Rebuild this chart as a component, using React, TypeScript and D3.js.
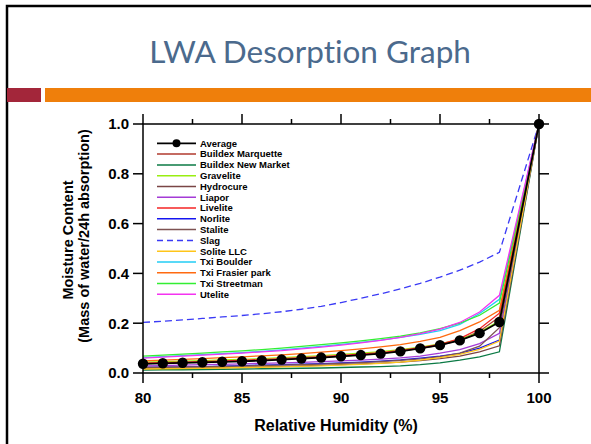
import React from "react";
import * as d3 from "d3";

const rh = [80, 81, 82, 83, 84, 85, 86, 87, 88, 89, 90, 91, 92, 93, 94, 95, 96, 97, 98, 100];

const seriesNames = [
  "Average",
  "Buildex Marquette",
  "Buildex New Market",
  "Gravelite",
  "Hydrocure",
  "Liapor",
  "Livelite",
  "Norlite",
  "Stalite",
  "Slag",
  "Solite LLC",
  "Txi Boulder",
  "Txi Frasier park",
  "Txi Streetman",
  "Utelite",
];

const average = [0.037, 0.039, 0.041, 0.043, 0.045, 0.047, 0.050, 0.054, 0.058, 0.062, 0.067, 0.072, 0.078, 0.087, 0.099, 0.112, 0.131, 0.160, 0.205, 1.0];
const buildexMarquette = [0.038, 0.040, 0.042, 0.044, 0.046, 0.049, 0.052, 0.055, 0.059, 0.063, 0.068, 0.073, 0.079, 0.088, 0.099, 0.112, 0.132, 0.168, 0.225, 1.0];
const buildexNewMarket = [0.012, 0.013, 0.013, 0.014, 0.015, 0.016, 0.017, 0.018, 0.019, 0.020, 0.022, 0.024, 0.026, 0.029, 0.034, 0.041, 0.052, 0.065, 0.085, 1.0];
const gravelite = [0.044, 0.046, 0.048, 0.050, 0.053, 0.055, 0.058, 0.062, 0.066, 0.070, 0.075, 0.080, 0.086, 0.094, 0.104, 0.117, 0.135, 0.163, 0.210, 1.0];
const hydrocure = [0.018, 0.019, 0.020, 0.021, 0.022, 0.024, 0.025, 0.027, 0.029, 0.031, 0.034, 0.037, 0.040, 0.044, 0.050, 0.058, 0.068, 0.085, 0.109, 1.0];
const liapor = [0.029, 0.030, 0.032, 0.034, 0.035, 0.037, 0.039, 0.041, 0.043, 0.046, 0.049, 0.052, 0.056, 0.061, 0.068, 0.080, 0.094, 0.118, 0.159, 1.0];
const livelite = [0.040, 0.042, 0.044, 0.046, 0.049, 0.051, 0.054, 0.058, 0.062, 0.066, 0.071, 0.076, 0.082, 0.091, 0.102, 0.115, 0.138, 0.178, 0.240, 1.0];
const norlite = [0.022, 0.023, 0.025, 0.026, 0.028, 0.030, 0.032, 0.034, 0.036, 0.038, 0.041, 0.044, 0.048, 0.053, 0.060, 0.068, 0.079, 0.100, 0.132, 1.0];
const stalite = [0.022, 0.023, 0.024, 0.025, 0.027, 0.028, 0.030, 0.032, 0.034, 0.036, 0.039, 0.042, 0.046, 0.051, 0.057, 0.066, 0.080, 0.108, 0.182, 1.0];
const slag = [0.203, 0.208, 0.213, 0.219, 0.225, 0.231, 0.238, 0.246, 0.256, 0.268, 0.283, 0.300, 0.318, 0.338, 0.360, 0.385, 0.413, 0.445, 0.485, 1.0];
const soliteLLC = [0.016, 0.017, 0.018, 0.019, 0.020, 0.022, 0.023, 0.025, 0.027, 0.029, 0.032, 0.035, 0.039, 0.044, 0.052, 0.062, 0.075, 0.095, 0.128, 1.0];
const txiBoulder = [0.062, 0.066, 0.070, 0.074, 0.078, 0.082, 0.087, 0.093, 0.100, 0.107, 0.115, 0.123, 0.132, 0.143, 0.155, 0.170, 0.195, 0.239, 0.296, 1.0];
const txiFrasierPark = [0.049, 0.052, 0.055, 0.058, 0.062, 0.065, 0.069, 0.073, 0.078, 0.084, 0.090, 0.097, 0.105, 0.114, 0.127, 0.143, 0.170, 0.205, 0.252, 1.0];
const txiStreetman = [0.068, 0.072, 0.076, 0.080, 0.085, 0.089, 0.094, 0.100, 0.107, 0.114, 0.121, 0.129, 0.138, 0.148, 0.161, 0.178, 0.200, 0.232, 0.281, 1.0];
const utelite = [0.060, 0.064, 0.068, 0.072, 0.076, 0.080, 0.085, 0.090, 0.097, 0.104, 0.112, 0.121, 0.131, 0.143, 0.158, 0.176, 0.203, 0.245, 0.312, 1.0];

const seriesValues = [
  average, buildexMarquette, buildexNewMarket, gravelite, hydrocure, liapor, livelite,
  norlite, stalite, slag, soliteLLC, txiBoulder, txiFrasierPark, txiStreetman, utelite,
];

const seriesColors = [
  "#000000", "#B03A2E", "#0B7A45", "#99EE11", "#7A4545", "#A43BD6", "#F52525",
  "#1515F0", "#7D5252", "#3A3AF5", "#FFC51A", "#22CCF5", "#FF6A10", "#33EE33", "#F433F0",
];

const xTicks = [80, 85, 90, 95, 100];
const xMinorTicks = [82.5, 87.5, 92.5, 97.5];
const yTicks = [0, 0.2, 0.4, 0.6, 0.8, 1.0];

const titleText = "LWA Desorption Graph";
const xTitle = "Relative Humidity (%)";
const yTitle1 = "Moisture Content";
const yTitle2 = "(Mass of water/24h absorption)";

export default function App() {
  const W = 591;
  const H = 444;
  const left = 143, right = 539, top = 124, bottom = 373;
  const x = d3.scaleLinear().domain([80, 100]).range([left, right]);
  const y = d3.scaleLinear().domain([0, 1]).range([bottom, top]);
  const line = d3
    .line<number>()
    .x((_, i) => x(rh[i]))
    .y((v) => y(v));

  const font = "'Liberation Sans', Arial, sans-serif";
  const order = [...seriesNames.keys()].filter((i) => i !== 0).concat([0]);

  const legX1 = 157, legX2 = 196, legY0 = 143.3, legDy = 10.79;

  return (
    <svg width={W} height={H} style={{ position: "absolute", left: 0, top: 0, background: "#fff" }}>
      {/* slide frame */}
      <rect x={7} y={6} width={700} height={600} fill="none" stroke="#000" strokeWidth={2.5} />
      <text
        x={310}
        y={63}
        textAnchor="middle"
        fontFamily="Lato, 'Noto Sans', sans-serif"
        fontSize={31.5}
        fill="#4B6A8D"
        style={{ fontVariantLigatures: "none" }}
      >
        {titleText}
      </text>
      <rect x={7} y={88} width={34} height={14} fill="#A3263A" />
      <rect x={45} y={88} width={560} height={14} fill="#EF7F0B" />

      {/* series */}
      <g>
        {order.map((i) => (
          <path
            key={seriesNames[i]}
            d={line(seriesValues[i]) || ""}
            fill="none"
            stroke={seriesColors[i]}
            strokeWidth={i === 0 ? 1.8 : 1.3}
            strokeDasharray={seriesNames[i] === "Slag" ? "7,4" : undefined}
          />
        ))}
        {average.map((v, i) => (
          <circle key={i} cx={x(rh[i])} cy={y(v)} r={5.2} fill="#000" />
        ))}
      </g>

      {/* axes frame */}
      <g stroke="#000" strokeWidth={1.5} fill="none">
        <rect x={left} y={top} width={right - left} height={bottom - top} />
        {xTicks.map((t) => (
          <g key={"xt" + t}>
            <line x1={x(t)} x2={x(t)} y1={bottom} y2={bottom + 10} />
            <line x1={x(t)} x2={x(t)} y1={top} y2={top - 10} />
          </g>
        ))}
        {xMinorTicks.map((t) => (
          <g key={"xm" + t}>
            <line x1={x(t)} x2={x(t)} y1={bottom} y2={bottom + 5} />
            <line x1={x(t)} x2={x(t)} y1={top} y2={top - 5} />
          </g>
        ))}
        {yTicks.map((t) => (
          <g key={"yt" + t}>
            <line x1={left} x2={left - 10} y1={y(t)} y2={y(t)} />
            <line x1={right} x2={right + 10} y1={y(t)} y2={y(t)} />
          </g>
        ))}
      </g>

      {/* tick labels */}
      <g fontFamily={font} fontWeight="bold" fontSize={15} fill="#000">
        {xTicks.map((t) => (
          <text key={"xl" + t} x={x(t)} y={403} textAnchor="middle">
            {d3.format("d")(t)}
          </text>
        ))}
        {yTicks.map((t) => (
          <text key={"yl" + t} x={129} y={y(t) + 5.3} textAnchor="end">
            {d3.format(".1f")(t)}
          </text>
        ))}
      </g>

      {/* axis titles */}
      <g fontFamily={font} fontWeight="bold" fill="#000">
        <text x={336} y={431} textAnchor="middle" fontSize={16}>
          {xTitle}
        </text>
        <text transform="translate(73,240) rotate(-90)" textAnchor="middle" fontSize={14.5}>
          {yTitle1}
        </text>
        <text transform="translate(88.5,236) rotate(-90)" textAnchor="middle" fontSize={14.5}>
          {yTitle2}
        </text>
      </g>

      {/* legend */}
      <g fontFamily={font} fontWeight="bold" fontSize={9.5} fill="#000">
        {seriesNames.map((name, i) => {
          const ly = legY0 + i * legDy;
          return (
            <g key={"lg" + name}>
              <line
                x1={legX1}
                x2={legX2}
                y1={ly}
                y2={ly}
                stroke={seriesColors[i]}
                strokeWidth={i === 0 ? 1.8 : 1.5}
                strokeDasharray={name === "Slag" ? "6,4" : undefined}
              />
              {i === 0 && <circle cx={(legX1 + legX2) / 2} cy={ly} r={4} fill="#000" />}
              <text x={200} y={ly + 3.4}>
                {name}
              </text>
            </g>
          );
        })}
      </g>
    </svg>
  );
}
